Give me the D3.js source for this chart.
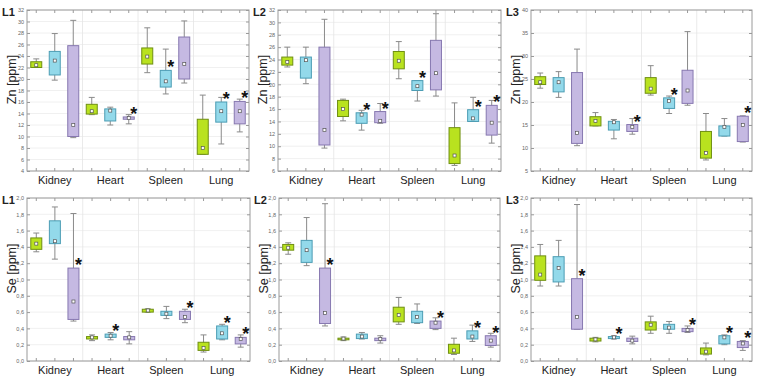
<!DOCTYPE html>
<html>
<head>
<meta charset="utf-8">
<script src="https://cdn.jsdelivr.net/npm/d3@7"></script>
<style>
  body { margin: 0; background: #fff; }
  svg { display: block; font-family: "Liberation Sans", Arial, sans-serif; }
</style>
</head>
<body>
<div id="chart"></div>
<script>
const categories = ['Kidney', 'Heart', 'Spleen', 'Lung'];
const groups = ['g1', 'g2', 'g3'];

// each row: [min, q1, median, q3, max], order Kidney g1..g3, Heart g1..g3, Spleen.., Lung..
const znL1 = [
  [22.0, 22.0, 22.4, 23.0, 23.5], [19.8, 20.7, 23.2, 24.8, 27.9], [9.8, 10.0, 12.0, 25.8, 30.2],
  [13.8, 13.9, 14.4, 15.6, 16.8], [12.0, 12.7, 14.5, 14.8, 15.1], [12.2, 13.0, 13.2, 13.4, 13.8],
  [21.1, 22.6, 23.9, 25.4, 28.9], [17.4, 18.6, 19.6, 21.5, 25.2], [19.3, 20.0, 22.6, 27.3, 30.1],
  [6.9, 6.9, 8.0, 13.0, 17.2], [8.7, 12.5, 14.4, 16.0, 16.8], [10.8, 12.2, 14.4, 16.1, 16.5]
];
const znL2 = [
  [22.8, 23.1, 23.6, 24.4, 26.0], [20.1, 21.0, 23.9, 24.4, 26.0], [9.7, 10.2, 12.6, 26.0, 30.5],
  [14.1, 14.8, 16.0, 17.4, 17.6], [12.6, 13.7, 15.1, 15.4, 15.8], [13.7, 13.8, 14.1, 15.6, 16.9],
  [20.9, 22.5, 23.8, 25.3, 26.9], [17.3, 19.0, 19.7, 20.6, 20.6], [18.1, 19.1, 21.8, 27.1, 31.4],
  [6.9, 7.2, 8.5, 13.0, 17.0], [14.0, 14.0, 14.5, 15.9, 17.9], [10.5, 11.8, 13.8, 16.6, 17.4]
];
const znL3 = [
  [23.0, 23.8, 24.3, 25.5, 26.3], [21.0, 22.2, 24.3, 25.3, 26.6], [10.5, 11.0, 13.3, 26.4, 31.5],
  [14.8, 14.8, 15.9, 16.8, 17.7], [12.0, 13.9, 15.6, 15.8, 16.2], [13.0, 13.6, 14.6, 15.1, 16.4],
  [21.5, 21.9, 22.9, 25.3, 27.9], [17.5, 18.6, 20.2, 20.9, 21.3], [19.3, 19.7, 22.5, 26.9, 35.3],
  [7.4, 7.8, 8.9, 13.6, 17.5], [12.6, 12.6, 14.6, 14.8, 16.4], [11.3, 11.4, 15.0, 16.9, 17.0]
];
const seL1 = [
  [1.34, 1.37, 1.44, 1.51, 1.57], [1.25, 1.44, 1.47, 1.72, 1.89], [0.49, 0.51, 0.73, 1.14, 1.81],
  [0.25, 0.27, 0.29, 0.30, 0.32], [0.26, 0.29, 0.31, 0.33, 0.35], [0.21, 0.26, 0.29, 0.30, 0.36],
  [0.60, 0.60, 0.62, 0.635, 0.64], [0.52, 0.56, 0.58, 0.61, 0.67], [0.47, 0.51, 0.54, 0.61, 0.635],
  [0.11, 0.13, 0.16, 0.23, 0.32], [0.26, 0.27, 0.34, 0.43, 0.45], [0.17, 0.21, 0.27, 0.29, 0.32]
];
const seL2 = [
  [1.31, 1.36, 1.39, 1.43, 1.45], [1.17, 1.21, 1.36, 1.48, 1.76], [0.43, 0.46, 0.59, 1.14, 1.93],
  [0.25, 0.26, 0.275, 0.28, 0.295], [0.27, 0.275, 0.30, 0.33, 0.35], [0.22, 0.25, 0.27, 0.28, 0.31],
  [0.45, 0.48, 0.565, 0.66, 0.78], [0.46, 0.47, 0.54, 0.61, 0.70], [0.385, 0.40, 0.47, 0.49, 0.53],
  [0.08, 0.095, 0.13, 0.205, 0.28], [0.24, 0.27, 0.30, 0.37, 0.44], [0.17, 0.19, 0.25, 0.31, 0.34]
];
const seL3 = [
  [0.92, 0.99, 1.06, 1.29, 1.43], [0.92, 0.97, 1.14, 1.28, 1.48], [0.39, 0.39, 0.54, 1.01, 1.92],
  [0.235, 0.245, 0.265, 0.28, 0.29], [0.27, 0.275, 0.29, 0.30, 0.31], [0.21, 0.24, 0.25, 0.28, 0.305],
  [0.34, 0.38, 0.445, 0.48, 0.55], [0.34, 0.39, 0.41, 0.45, 0.485], [0.35, 0.36, 0.38, 0.40, 0.43],
  [0.075, 0.085, 0.115, 0.16, 0.22], [0.20, 0.21, 0.29, 0.31, 0.32], [0.13, 0.165, 0.215, 0.24, 0.25]
];

// boxes marked with an asterisk (index = category * 3 + group)
const znL1Stars = [5, 7, 10, 11];
const znL2Stars = [4, 5, 7, 10, 11];
const znL3Stars = [5, 7, 11];
const seL1Stars = [2, 4, 8, 10, 11];
const seL2Stars = [2, 8, 10, 11];
const seL3Stars = [2, 4, 8, 10, 11];

const znL1Ticks = d3.range(4, 33, 2);
const znL2Ticks = d3.range(6, 33, 2);
const znL3Ticks = d3.range(5, 41, 5);
const seTicks = d3.range(0, 2.01, 0.2);

const fills = ['#b9e21f', '#93d9ea', '#c5b9e2'];
const strokes = ['#6f8f12', '#4c9db4', '#8778b0'];

const width = 758;
const height = 378;

const svg = d3.select('#chart')
  .append('svg')
  .attr('width', width)
  .attr('height', height);

const comma = d3.formatLocale({ decimal: ',', thousands: '.', grouping: [3], currency: ['', ''] });

const panels = [
  { title: 'L1', ylab: 'Zn [ppm]', data: znL1, stars: znL1Stars, ticks: znL1Ticks, fmt: d3.format('d'), x0: 27, x1: 249, y0: 10, y1: 171 },
  { title: 'L2', ylab: 'Zn [ppm]', data: znL2, stars: znL2Stars, ticks: znL2Ticks, fmt: d3.format('d'), x0: 278, x1: 501, y0: 10, y1: 171 },
  { title: 'L3', ylab: 'Zn [ppm]', data: znL3, stars: znL3Stars, ticks: znL3Ticks, fmt: d3.format('d'), x0: 531, x1: 752, y0: 10, y1: 171 },
  { title: 'L1', ylab: 'Se [ppm]', data: seL1, stars: seL1Stars, ticks: seTicks, fmt: comma.format('.1f'), x0: 27, x1: 250, y0: 198, y1: 361 },
  { title: 'L2', ylab: 'Se [ppm]', data: seL2, stars: seL2Stars, ticks: seTicks, fmt: comma.format('.1f'), x0: 279, x1: 500, y0: 198, y1: 361 },
  { title: 'L3', ylab: 'Se [ppm]', data: seL3, stars: seL3Stars, ticks: seTicks, fmt: comma.format('.1f'), x0: 531, x1: 752, y0: 198, y1: 361 }
];

panels.forEach(p => drawPanel(p));

function drawPanel(p)
{
  const g = svg.append('g');

  const yScale = d3.scaleLinear()
    .domain([p.ticks[0], p.ticks[p.ticks.length - 1]])
    .range([p.y1, p.y0]);

  const xScale = d3.scaleBand()
    .domain(categories)
    .range([p.x0, p.x1])
    .padding(0);

  const gScale = d3.scalePoint()
    .domain(groups)
    .range([0, xScale.bandwidth()])
    .padding(0.5);

  // horizontal grid
  g.selectAll('.hgrid')
    .data(p.ticks)
    .enter().append('line')
    .attr('x1', p.x0).attr('x2', p.x1)
    .attr('y1', d => yScale(d)).attr('y2', d => yScale(d))
    .attr('stroke', '#ececec')
    .attr('stroke-width', 0.8);

  // vertical grid at category boundaries
  g.selectAll('.vgrid')
    .data(categories.slice(1))
    .enter().append('line')
    .attr('x1', d => xScale(d)).attr('x2', d => xScale(d))
    .attr('y1', p.y0).attr('y2', p.y1)
    .attr('stroke', '#e4e4e4')
    .attr('stroke-width', 0.8);

  // frame
  g.append('rect')
    .attr('x', p.x0).attr('y', p.y0)
    .attr('width', p.x1 - p.x0).attr('height', p.y1 - p.y0)
    .attr('fill', 'none')
    .attr('stroke', '#9a9a9a')
    .attr('stroke-width', 1);

  // y axis
  const yAxis = d3.axisLeft(yScale)
    .tickValues(p.ticks)
    .tickFormat(p.fmt)
    .tickSize(-3)
    .tickPadding(3);
  const ya = g.append('g')
    .attr('transform', `translate(${p.x0}, 0)`)
    .call(yAxis);
  ya.select('.domain').remove();
  ya.selectAll('line').attr('stroke', '#9a9a9a');
  ya.selectAll('text').attr('fill', '#666').style('font-size', '5.5px');

  // right side ticks
  const yr = g.append('g')
    .attr('transform', `translate(${p.x1}, 0)`)
    .call(d3.axisRight(yScale).tickValues(p.ticks).tickSize(-3).tickFormat(''));
  yr.select('.domain').remove();
  yr.selectAll('line').attr('stroke', '#9a9a9a');

  // x ticks at box positions (top and bottom)
  const boxX = [];
  categories.forEach(c => groups.forEach(gr => boxX.push(xScale(c) + gScale(gr))));
  g.selectAll('.xtb')
    .data(boxX)
    .enter().append('line')
    .attr('x1', d => d).attr('x2', d => d)
    .attr('y1', p.y1).attr('y2', p.y1 - 3)
    .attr('stroke', '#9a9a9a');
  g.selectAll('.xtt')
    .data(boxX)
    .enter().append('line')
    .attr('x1', d => d).attr('x2', d => d)
    .attr('y1', p.y0).attr('y2', p.y0 + 3)
    .attr('stroke', '#9a9a9a');

  // x labels
  g.selectAll('.xlab')
    .data(categories)
    .enter().append('text')
    .attr('x', d => xScale(d) + xScale.bandwidth() / 2)
    .attr('y', p.y1 + 13)
    .attr('text-anchor', 'middle')
    .attr('fill', '#222')
    .style('font-size', '11px')
    .text(d => d);

  // boxes
  const boxW = 11;
  const capW = 6;
  const boxes = g.selectAll('.box')
    .data(p.data)
    .enter().append('g')
    .attr('transform', (d, i) => `translate(${boxX[i]}, 0)`);

  boxes.append('line')
    .attr('x1', 0).attr('x2', 0)
    .attr('y1', d => yScale(d[4])).attr('y2', d => yScale(d[0]))
    .attr('stroke', '#8a8a8a');
  boxes.append('line')
    .attr('x1', -capW / 2).attr('x2', capW / 2)
    .attr('y1', d => yScale(d[4])).attr('y2', d => yScale(d[4]))
    .attr('stroke', '#8a8a8a');
  boxes.append('line')
    .attr('x1', -capW / 2).attr('x2', capW / 2)
    .attr('y1', d => yScale(d[0])).attr('y2', d => yScale(d[0]))
    .attr('stroke', '#8a8a8a');
  boxes.append('rect')
    .attr('x', -boxW / 2)
    .attr('y', d => yScale(d[3]))
    .attr('width', boxW)
    .attr('height', d => Math.max(1, yScale(d[1]) - yScale(d[3])))
    .attr('fill', (d, i) => fills[i % 3])
    .attr('stroke', (d, i) => strokes[i % 3])
    .attr('stroke-width', 1);
  boxes.append('rect')
    .attr('x', -1.5)
    .attr('y', d => yScale(d[2]) - 1.5)
    .attr('width', 3).attr('height', 3)
    .attr('fill', '#fff')
    .attr('stroke', '#555')
    .attr('stroke-width', 0.7);

  // asterisks
  g.selectAll('.star')
    .data(p.stars)
    .enter().append('text')
    .attr('x', i => boxX[i] + 1.5)
    .attr('y', i => yScale(p.data[i][3]) + 3)
    .style('font-size', '18px')
    .style('font-weight', 'bold')
    .attr('fill', '#111')
    .text('*');

  // y label
  g.append('text')
    .attr('transform', 'rotate(-90)')
    .attr('x', -((p.y0 + p.y1) / 2 - 11))
    .attr('y', p.x0 - 11)
    .attr('text-anchor', 'middle')
    .attr('fill', '#222')
    .style('font-size', '12.5px')
    .text(p.ylab);

  // panel title
  g.append('text')
    .attr('x', p.x0 - 25)
    .attr('y', p.y0 + 6)
    .style('font-size', '11px')
    .style('font-weight', 'bold')
    .attr('fill', '#222')
    .text(p.title);
}
</script>
</body>
</html>
